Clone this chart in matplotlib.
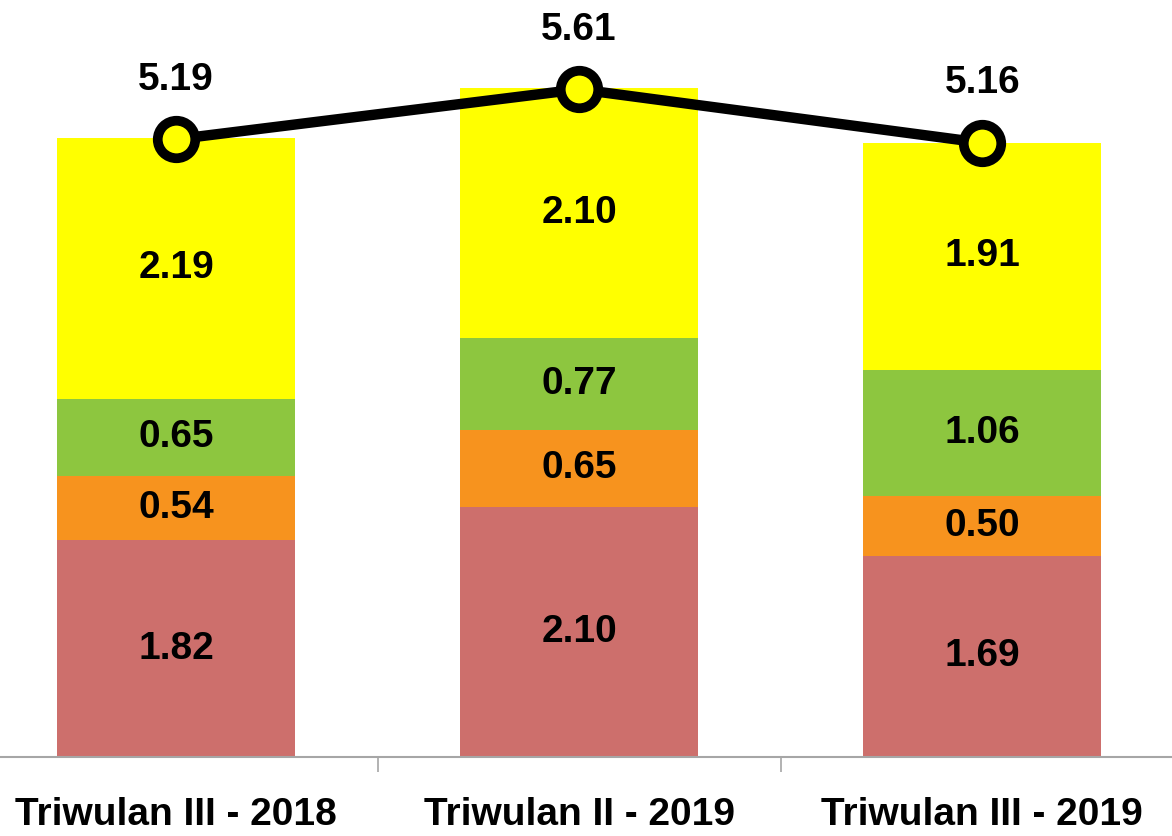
import matplotlib

matplotlib.use("Agg")
import numpy as np
from matplotlib import pyplot as plt

plt.rcParams["font.family"] = ["Liberation Sans Narrow", "Liberation Sans", "DejaVu Sans"]

categories = ["Triwulan III - 2018", "Triwulan II - 2019", "Triwulan III - 2019"]
seg_red = [1.82, 2.10, 1.69]
seg_orange = [0.54, 0.65, 0.50]
seg_green = [0.65, 0.77, 1.06]
seg_yellow = [2.19, 2.10, 1.91]
totals = [5.19, 5.61, 5.16]

COLORS = ["#CD6F6C", "#F7931E", "#8DC63F", "#FFFF00"]

fig = plt.figure(figsize=(11.72, 8.36), dpi=100)
ax = fig.add_axes([0, 0.0945, 1, 0.9055])

x = np.arange(len(categories))
bottom = np.zeros(len(categories))
for seg, color in zip([seg_red, seg_orange, seg_green, seg_yellow], COLORS):
    seg = np.array(seg)
    ax.bar(x, seg, width=0.59, bottom=bottom, color=color, zorder=2)
    for xi, b, v in zip(x, bottom, seg):
        ax.text(xi, b + v / 2, f"{v:.2f}", ha="center", va="center",
                fontsize=28, fontweight="bold", color="black", zorder=4)
    bottom += seg

ax.plot(x, totals, color="black", lw=7.5, marker="o", markersize=27,
        markerfacecolor="#FFFF00", markeredgecolor="black", markeredgewidth=7,
        zorder=5, solid_capstyle="round")
for xi, t in zip(x, totals):
    ax.text(xi, t + 0.5, f"{t:.2f}", ha="center", va="center",
            fontsize=28, fontweight="bold", color="black", zorder=6)

ax.set_xlim(-0.437, 2.471)
ax.set_ylim(0, 6.36)
for side in ["top", "right", "left"]:
    ax.spines[side].set_visible(False)
ax.spines["bottom"].set_color("#A6A6A6")
ax.spines["bottom"].set_linewidth(1.5)
ax.set_yticks([])
ax.set_xticks(x)
ax.set_xticklabels(categories, fontsize=28, fontweight="bold")
ax.tick_params(axis="x", which="major", length=0, pad=29)
ax.set_xticks([0.5, 1.5], minor=True)
ax.tick_params(axis="x", which="minor", length=11, width=1.2, color="#A6A6A6")

fig.savefig("out.png", dpi=100)
